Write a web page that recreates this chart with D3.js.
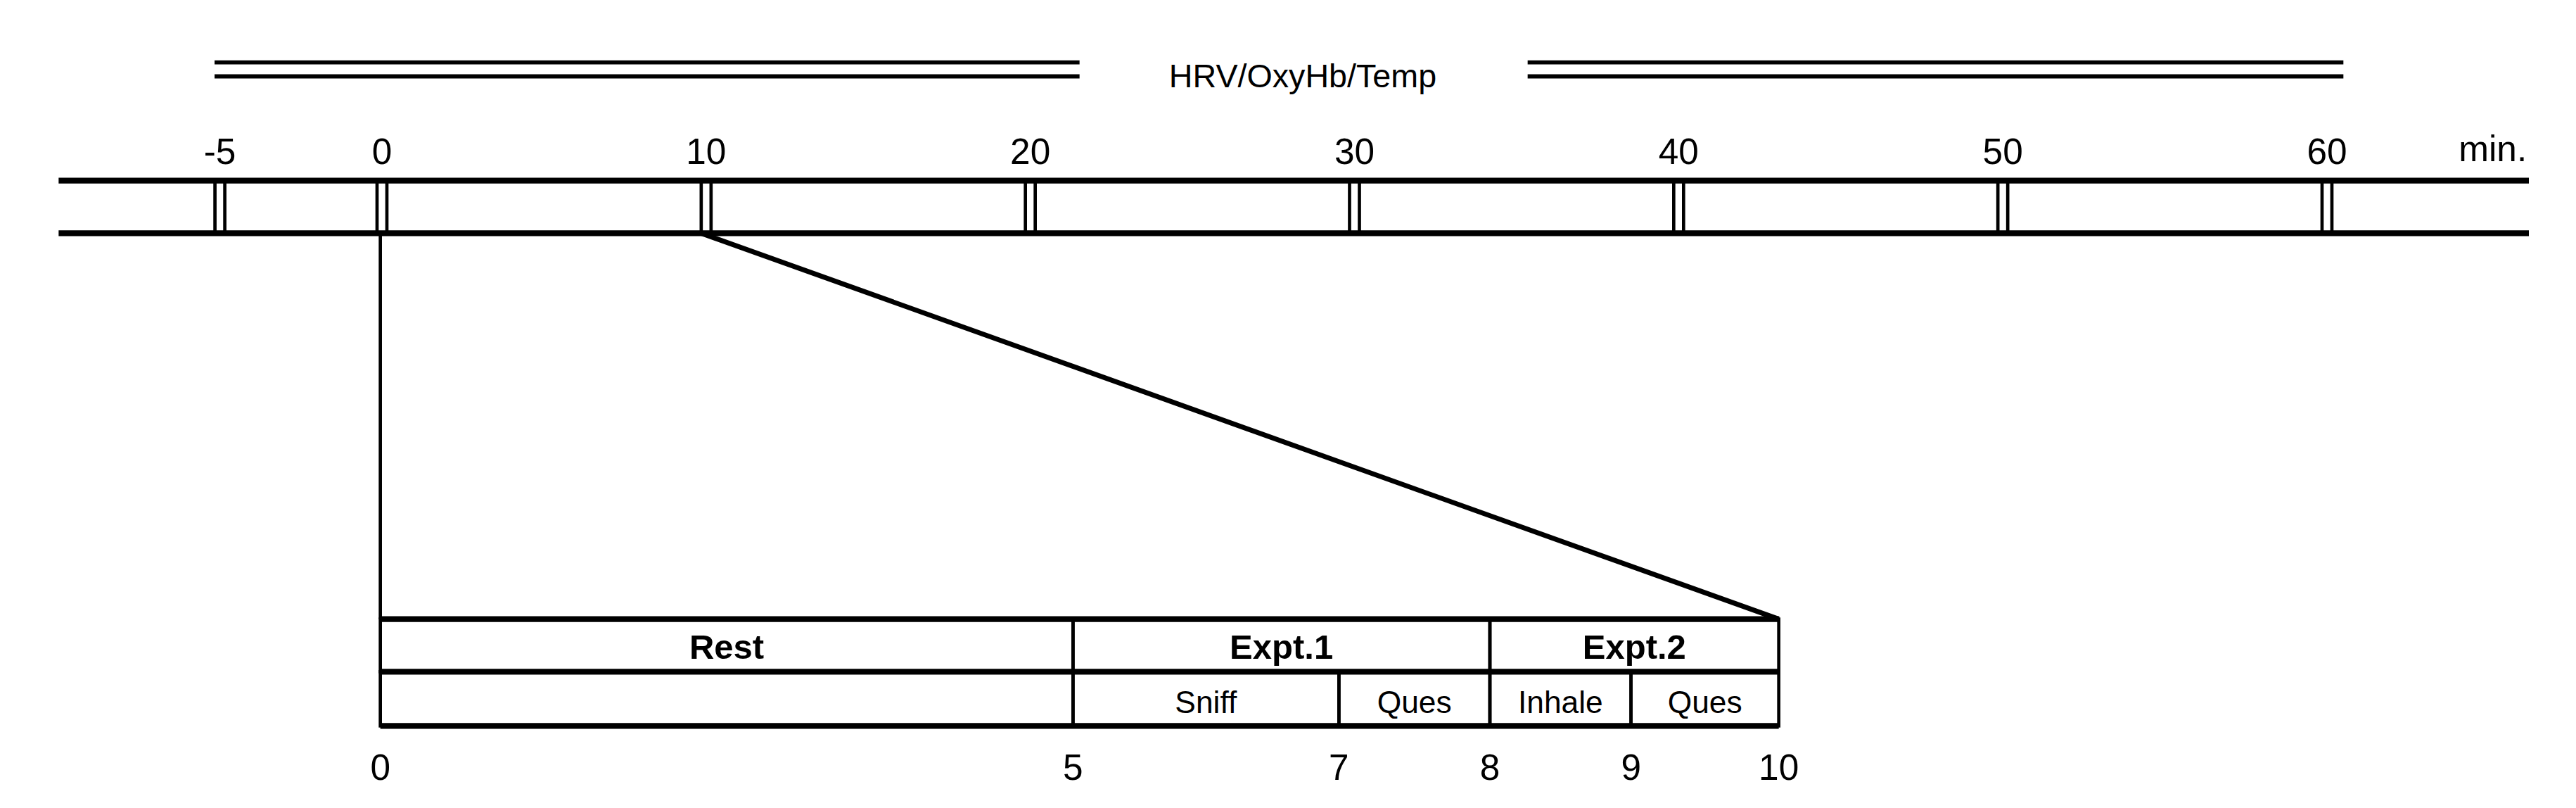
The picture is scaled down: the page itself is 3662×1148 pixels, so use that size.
<!DOCTYPE html>
<html><head><meta charset="utf-8">
<script src="https://cdn.jsdelivr.net/npm/d3@7"></script>
<style>body{margin:0;background:#fff}text{font-family:"Liberation Sans",Arial,sans-serif;fill:#000}</style>
</head><body>
<script>
// main timeline ticks (minutes)
const mainTicks = [-5, 0, 10, 20, 30, 40, 50, 60];
// zoomed 0-10 min protocol
const topPhases = [{name: "Rest", start: 0, end: 5}, {name: "Expt.1", start: 5, end: 8}, {name: "Expt.2", start: 8, end: 10}];
const subPhases = [{name: "", start: 0, end: 5}, {name: "Sniff", start: 5, end: 7}, {name: "Ques", start: 7, end: 8}, {name: "Inhale", start: 8, end: 9}, {name: "Ques", start: 9, end: 10}];
const zoomTicks = [0, 5, 7, 8, 9, 10];
const title = "HRV/OxyHb/Temp";

let W = 1568, H = 492;
let svg = d3.select("body").append("svg")
    .attr("width", 3662).attr("height", 1148)
    .attr("viewBox", `0 0 ${W} ${H}`);

let x = d3.scaleLinear().domain([0, 60]).range([232, 1417]);
// the zoom box is drawn not to scale in the original
let xz = d3.scaleLinear().domain(zoomTicks).range([231, 653, 815, 907, 993, 1083]);

// top double bars with title
[38, 46.5].forEach(y => {
    svg.append("line").attr("x1", 130).attr("x2", 657).attr("y1", y).attr("y2", y).attr("stroke", "#000").attr("stroke-width", 2.5);
    svg.append("line").attr("x1", 930).attr("x2", 1427).attr("y1", y).attr("y2", y).attr("stroke", "#000").attr("stroke-width", 2.5);
});
svg.append("text").attr("x", 793).attr("y", 53).attr("text-anchor", "middle").style("font-size", "20px").text(title);

// main time axis
let axTop = 110, axBot = 142;
[axTop, axBot].forEach(y => svg.append("line").attr("x1", 35).attr("x2", 1540).attr("y1", y).attr("y2", y).attr("stroke", "#000").attr("stroke-width", 3.5));
mainTicks.forEach(t => {
    [-3, 3].forEach(o => svg.append("line").attr("x1", x(t) + o).attr("x2", x(t) + o)
        .attr("y1", axTop).attr("y2", axBot).attr("stroke", "#000").attr("stroke-width", 2));
    svg.append("text").attr("x", x(t)).attr("y", 100).attr("text-anchor", "middle").style("font-size", "22px").text(t);
});
svg.append("text").attr("x", 1518).attr("y", 98).attr("text-anchor", "middle").style("font-size", "22px").text("min.");

// zoom box geometry
let bTop = 377, bMid = 409, bBot = 442;

// connector lines
svg.append("line").attr("x1", xz(0)).attr("x2", xz(0)).attr("y1", axBot).attr("y2", bTop).attr("stroke", "#000").attr("stroke-width", 2);
svg.append("line").attr("x1", x(10) - 3).attr("x2", xz(10)).attr("y1", axBot).attr("y2", bTop).attr("stroke", "#000").attr("stroke-width", 3);

// phase cells
topPhases.forEach(p => {
    svg.append("rect").attr("x", xz(p.start)).attr("y", bTop).attr("width", xz(p.end) - xz(p.start)).attr("height", bMid - bTop)
        .attr("fill", "none").attr("stroke", "#000").attr("stroke-width", 2);
    svg.append("text").attr("x", (xz(p.start) + xz(p.end)) / 2).attr("y", bMid - 8).attr("text-anchor", "middle")
        .style("font-size", "21px").style("font-weight", "bold").text(p.name);
});
subPhases.forEach(p => {
    svg.append("rect").attr("x", xz(p.start)).attr("y", bMid).attr("width", xz(p.end) - xz(p.start)).attr("height", bBot - bMid)
        .attr("fill", "none").attr("stroke", "#000").attr("stroke-width", 2);
    svg.append("text").attr("x", (xz(p.start) + xz(p.end)) / 2).attr("y", bBot - 8).attr("text-anchor", "middle")
        .style("font-size", "19px").text(p.name);
});
// thicker horizontal border lines
[bTop, bMid, bBot].forEach(y => svg.append("line").attr("x1", xz(0)).attr("x2", xz(10)).attr("y1", y).attr("y2", y).attr("stroke", "#000").attr("stroke-width", 3.5));

zoomTicks.forEach(t => svg.append("text").attr("x", xz(t)).attr("y", 475).attr("text-anchor", "middle").style("font-size", "22px").text(t));
</script>
</body></html>
